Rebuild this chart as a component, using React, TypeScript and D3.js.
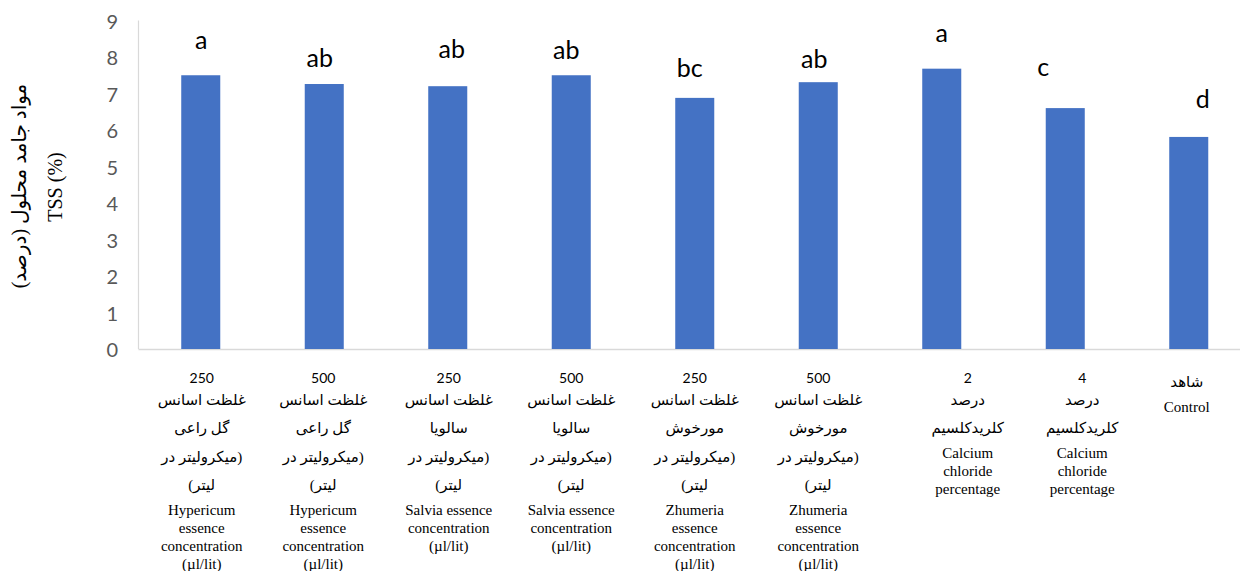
import React from "react";
import * as d3 from "d3";

// Total soluble solids (TSS, %) per treatment
const treatments = ["H250", "H500", "S250", "S500", "Z250", "Z500", "Ca2", "Ca4", "Control"];
const tssValues = [7.5, 7.26, 7.2, 7.5, 6.88, 7.31, 7.68, 6.6, 5.81];
const groupLetters = ["a", "ab", "ab", "ab", "bc", "ab", "a", "c", "d"];

// Category label text: dose, Persian lines, English lines
const doseLabels = ["250", "500", "250", "500", "250", "500", "2", "4", ""];
const faLabels = [
  ["غلظت اسانس", "گل راعی", "(میکرولیتر در", "لیتر)"],
  ["غلظت اسانس", "گل راعی", "(میکرولیتر در", "لیتر)"],
  ["غلظت اسانس", "سالویا", "(میکرولیتر در", "لیتر)"],
  ["غلظت اسانس", "سالویا", "(میکرولیتر در", "لیتر)"],
  ["غلظت اسانس", "مورخوش", "(میکرولیتر در", "لیتر)"],
  ["غلظت اسانس", "مورخوش", "(میکرولیتر در", "لیتر)"],
  ["درصد", "کلریدکلسیم"],
  ["درصد", "کلریدکلسیم"],
  ["شاهد"],
];
const enLabels = [
  ["Hypericum", "essence", "concentration", "(µl/lit)"],
  ["Hypericum", "essence", "concentration", "(µl/lit)"],
  ["Salvia essence", "concentration", "(µl/lit)"],
  ["Salvia essence", "concentration", "(µl/lit)"],
  ["Zhumeria", "essence", "concentration", "(µl/lit)"],
  ["Zhumeria", "essence", "concentration", "(µl/lit)"],
  ["Calcium", "chloride", "percentage"],
  ["Calcium", "chloride", "percentage"],
  ["Control"],
];
const yTicks = [0, 1, 2, 3, 4, 5, 6, 7, 8, 9];

// Hand placement of the significance letters relative to each bar top [dx, dy]
const letterOffsets: [number, number][] = [
  [0.5, -26.7], [-4.5, -17.3], [4, -28], [-5, -16.7], [-5, -21],
  [-4, -14.6], [0, -27], [-22, -32], [14, -29],
];
// Horizontal shift of the category label blocks
const labelShift = [1, -1, 1, 0, 0, 0, 26, 17, -2];

const W = 1240;
const H = 571;
const BAR = "#4472C4";
const AXIS = "#d9d9d9";
const SANS = "Lato, 'Open Sans', sans-serif";
const SERIF = "'Liberation Serif', 'DejaVu Serif', 'Times New Roman', serif";
const FA = "'Liberation Serif', 'DejaVu Sans', serif";

type Line = { text: string; kind: "num" | "fa" | "en"; y: number };

function layoutLabel(i: number): Line[] {
  const lines: Line[] = [];
  let y = 0;
  let prev: string | null = null;
  const gap = (from: string | null, to: string) => {
    if (from === null) return to === "num" ? 377 : 382;
    if (from === "num") return 22.5;
    if (from === "fa" && to === "fa") return 28.5;
    if (from === "fa" && to === "en") return 24.5;
    return 18;
  };
  const push = (text: string, kind: "num" | "fa" | "en") => {
    y = prev === null ? gap(null, kind) : y + gap(prev, kind);
    lines.push({ text, kind, y });
    prev = kind;
  };
  if (doseLabels[i]) push(doseLabels[i], "num");
  faLabels[i].forEach((t) => push(t, "fa"));
  enLabels[i].forEach((t) => push(t, "en"));
  return lines;
}

export default function App() {
  const x = d3
    .scaleBand<string>()
    .domain(treatments)
    .range([139, 1250.5])
    .paddingInner(0.684)
    .paddingOuter(0.342);
  const y = d3.scaleLinear().domain([0, 9]).range([349, 20.5]);
  const y0 = y(0);

  return (
    <svg
      width={W}
      height={H}
      style={{ position: "absolute", left: 0, top: 0, background: "#fff" }}
    >
      {/* axis lines */}
      <line x1={138.5} x2={138.5} y1={y(9)} y2={y0} stroke={AXIS} strokeWidth={1.2} />
      <line x1={138.5} x2={W} y1={y0 + 0.5} y2={y0 + 0.5} stroke={AXIS} strokeWidth={1.4} />

      {/* y tick labels */}
      {yTicks.map((t) => (
        <text
          key={t}
          x={118}
          y={y(t)}
          textAnchor="end"
          dominantBaseline="central"
          fontFamily={SANS}
          fontSize={20}
          fill="#595959"
        >
          {t}
        </text>
      ))}

      {/* y axis title */}
      <g transform="translate(19,186) rotate(-90)">
        <text
          x={0}
          y={0}
          textAnchor="middle"
          dominantBaseline="central"
          direction="rtl"
          fontFamily={FA}
          fontSize={20}
          fill="#000"
        >
          مواد جامد محلول (درصد)
        </text>
      </g>
      <g transform="translate(55,187) rotate(-90)">
        <text
          x={0}
          y={0}
          textAnchor="middle"
          dominantBaseline="central"
          fontFamily={SERIF}
          fontSize={20}
          fill="#000"
        >
          TSS (%)
        </text>
      </g>

      {/* bars */}
      {treatments.map((t, i) => (
        <rect
          key={t}
          x={x(t)}
          y={y(tssValues[i])}
          width={x.bandwidth()}
          height={y0 - y(tssValues[i])}
          fill={BAR}
        />
      ))}

      {/* significance letters */}
      {treatments.map((t, i) => (
        <text
          key={t}
          x={(x(t) as number) + x.bandwidth() / 2 + letterOffsets[i][0]}
          y={y(tssValues[i]) + letterOffsets[i][1]}
          textAnchor="middle"
          fontFamily={SANS}
          fontSize={25}
          fill="#000"
        >
          {groupLetters[i]}
        </text>
      ))}

      {/* category labels */}
      {treatments.map((t, i) => {
        const cx = (x(t) as number) + x.bandwidth() / 2 + labelShift[i];
        return (
          <g key={t}>
            {layoutLabel(i).map((l, j) => (
              <text
                key={j}
                x={cx}
                y={l.y}
                textAnchor="middle"
                dominantBaseline="central"
                direction={l.kind === "fa" ? "rtl" : "ltr"}
                fontFamily={l.kind === "num" ? SANS : l.kind === "fa" ? FA : SERIF}
                fontSize={l.kind === "num" ? 14 : 15}
                fill="#000"
              >
                {l.text}
              </text>
            ))}
          </g>
        );
      })}
    </svg>
  );
}
